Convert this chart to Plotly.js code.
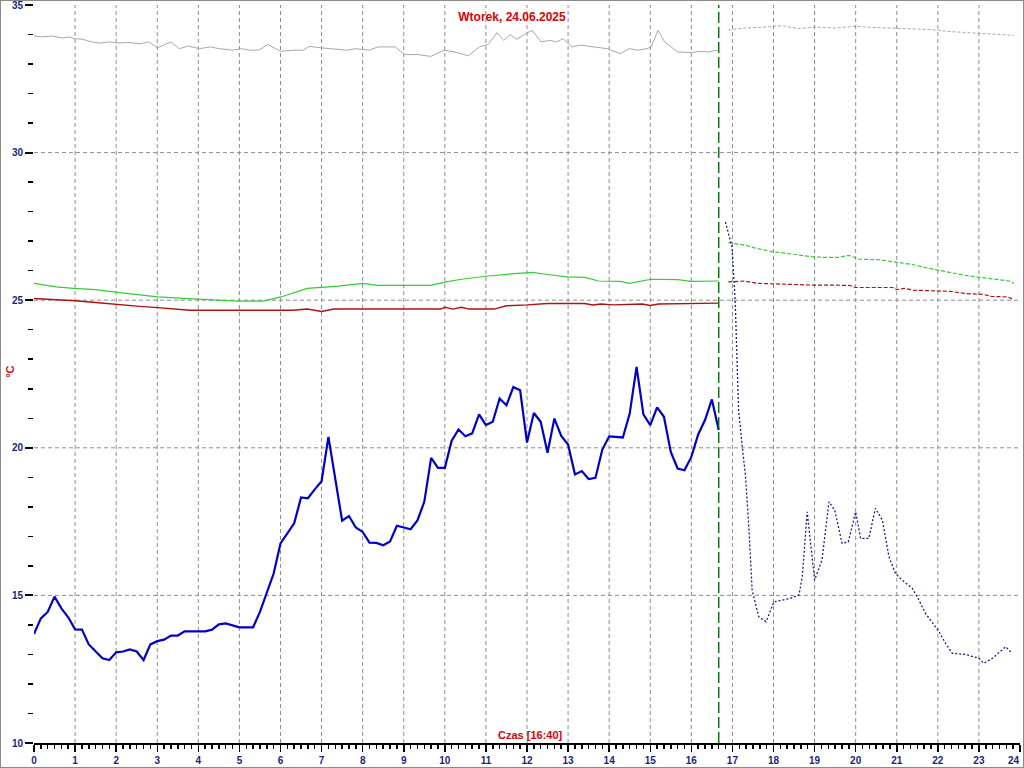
<!DOCTYPE html>
<html>
<head>
<meta charset="utf-8">
<script src="https://cdn.plot.ly/plotly-3.0.1.min.js"></script>
<style>
  html, body { margin: 0; padding: 0; background: #fff; }
  #chart { width: 1024px; height: 768px; }
  #frame { position: absolute; left: 0; top: 0; width: 1024px; height: 768px; box-sizing: border-box; border: 1px solid #8a8a8a; pointer-events: none; }
</style>
</head>
<body>
<div id="chart"></div>
<div id="frame"></div>
<script>
// ---- data ----
const titleText = "Wtorek, 24.06.2025";
const nowLabel = "Czas [16:40]";
const nowHour = 16 + 40 / 60;
const xTickLabels = ["0","1","2","3","4","5","6","7","8","9","10","11","12","13","14","15","16","17","18","19","20","21","22","23","24"];
const yTickLabels = ["10","15","20","25","30","35"];
const gridHours = [1,2,3,4,5,6,7,8,9,10,11,12,13,14,15,16,17,18,19,20,21,22,23];
const gridTemps = [15,20,25,30];

// measured air temperature, every 10 minutes from 00:00 to 16:40
const tempObs = [13.69,14.22,14.44,14.96,14.56,14.26,13.85,13.84,13.34,13.10,12.87,12.81,13.07,13.10,13.17,13.10,12.81,13.34,13.45,13.50,13.64,13.64,13.78,13.78,13.78,13.78,13.84,14.02,14.05,13.99,13.92,13.92,13.92,14.44,15.07,
  15.74,16.76,17.10,17.44,18.32,18.29,18.59,18.87,20.37,18.90,17.53,17.69,17.30,17.15,16.79,16.78,16.70,16.83,17.36,17.30,17.24,17.54,18.17,19.66,19.32,19.32,20.24,20.62,20.39,20.49,21.13,20.77,20.88,21.67,
  21.44,22.06,21.95,20.18,21.18,20.88,19.83,20.99,20.40,20.11,19.10,19.21,18.94,18.98,19.94,20.39,20.36,20.35,21.16,22.74,21.13,20.77,21.37,21.05,19.86,19.30,19.24,19.69,20.45,20.94,21.64,20.60];

// forecast air temperature
const tempFcX = [16.83,16.90,16.99,17.07,17.15,17.25,17.32,17.40,17.48,17.64,17.82,18.01,18.21,18.41,18.62,18.70,18.82,18.90,19.00,19.18,19.35,19.49,19.67,19.82,20.00,20.12,20.32,20.48,20.65,20.81,20.97,21.13,21.38,21.54,21.70,22.03,22.19,22.35,22.67,23.00,23.12,23.33,23.65,23.81];
const tempFcY = [27.65,27.26,26.81,24.89,21.28,19.92,19.02,17.32,15.18,14.28,14.11,14.78,14.84,14.90,15.01,15.63,17.83,16.87,15.52,16.20,18.17,17.89,16.76,16.81,17.83,16.93,16.93,17.95,17.55,16.31,15.74,15.52,15.24,14.84,14.39,13.77,13.37,13.04,13.00,12.87,12.70,12.87,13.26,13.04];

// green series (measured / forecast)
const greenX = [0,0.54,0.97,1.5,1.93,2.47,3.01,3.65,4.4,4.94,5.58,6.01,6.65,7.41,8.0,8.37,9.66,10.03,10.41,11.05,11.7,12.13,12.45,12.98,13.41,13.74,14.27,14.49,15.02,15.67,15.99,16.67];
const greenY = [25.57,25.45,25.40,25.36,25.28,25.19,25.11,25.06,25.02,24.97,24.97,25.11,25.40,25.48,25.57,25.50,25.50,25.62,25.71,25.82,25.90,25.94,25.88,25.79,25.77,25.65,25.64,25.57,25.71,25.70,25.64,25.65];
const greenFcX = [16.90,17.32,17.60,17.97,18.25,18.62,18.94,19.27,19.59,19.83,20.08,20.57,20.97,21.38,21.78,22.19,22.67,23.16,23.49,23.73,23.85];
const greenFcY = [26.95,26.86,26.75,26.64,26.60,26.52,26.47,26.45,26.45,26.52,26.39,26.37,26.30,26.21,26.08,25.98,25.84,25.75,25.68,25.65,25.57];

// dark red series (measured / forecast)
const redX = [0,0.5,1.0,1.5,2.0,2.5,3.0,3.8,6.3,6.65,7.0,7.3,8.0,9.9,10.0,10.2,10.4,10.6,11.2,11.5,12.0,12.2,12.5,13.4,13.6,13.8,14.1,14.8,15.0,15.2,16.67];
const redY = [25.06,25.03,24.98,24.92,24.85,24.80,24.75,24.66,24.66,24.70,24.62,24.70,24.70,24.70,24.76,24.70,24.76,24.70,24.70,24.81,24.84,24.87,24.89,24.89,24.84,24.87,24.84,24.87,24.82,24.87,24.90];
const redFcX = [16.9,17.3,17.6,18.0,18.6,19.0,19.5,19.85,20.0,20.9,21.0,21.2,21.4,21.9,22.3,22.7,23.1,23.3,23.7,23.85];
const redFcY = [25.62,25.65,25.57,25.55,25.52,25.51,25.51,25.50,25.43,25.43,25.36,25.40,25.34,25.33,25.30,25.22,25.20,25.13,25.11,25.02];

// gray series (measured / forecast)
const grayX = [0,0.22,0.43,0.70,0.86,0.97,1.18,1.40,1.61,1.83,2.04,2.26,2.58,2.79,3.01,3.33,3.54,3.76,4.03,4.29,4.51,4.83,5.05,5.26,5.47,5.69,6.01,6.33,6.55,6.71,6.98,7.30,7.62,7.83,8.16,8.37,8.80,9.01,9.34,9.66,9.98,10.30,10.57,10.84,11.05,11.27,11.43,11.59,11.75,11.97,12.13,12.34,12.55,12.72,12.88,13.09,13.31,13.63,13.95,14.27,14.49,14.70,14.92,15.02,15.19,15.35,15.67,15.99,16.20,16.42,16.63];
const grayY = [33.95,33.92,33.95,33.88,33.92,33.86,33.84,33.75,33.71,33.75,33.71,33.73,33.69,33.75,33.55,33.75,33.52,33.61,33.52,33.58,33.52,33.47,33.52,33.47,33.47,33.66,33.43,33.47,33.47,33.60,33.55,33.52,33.47,33.52,33.47,33.58,33.58,33.32,33.32,33.26,33.47,33.39,33.28,33.58,33.66,34.06,33.80,33.99,33.84,34.03,34.14,33.75,33.80,33.75,33.86,33.58,33.64,33.58,33.52,33.35,33.52,33.47,33.52,33.58,34.14,33.75,33.41,33.39,33.43,33.41,33.47];
const grayFcX = [16.9,17.3,17.8,18.2,18.6,19.0,19.5,20.0,20.4,20.8,21.3,21.8,22.3,22.8,23.3,23.85];
const grayFcY = [34.15,34.22,34.25,34.30,34.20,34.25,34.22,34.28,34.24,34.22,34.20,34.17,34.10,34.05,34.00,33.97];

// ---- build ----
const obsX = tempObs.map((_, i) => i / 6);
const navy = '#1e1e78';
const red = '#e00000';
const fontFam = 'Arial, "Liberation Sans", sans-serif';
const tickFont = {family: fontFam, size: 10, color: navy, weight: 'bold'};

const traces = [
  {x: grayX, y: grayY, mode: 'lines', line: {color: '#a8a8a8', width: 1}},
  {x: grayFcX, y: grayFcY, mode: 'lines', line: {color: '#a8a8a8', width: 1, dash: '3px,2px'}},
  {x: greenX, y: greenY, mode: 'lines', line: {color: '#33cc33', width: 1.2}},
  {x: greenFcX, y: greenFcY, mode: 'lines', line: {color: '#33cc33', width: 1.2, dash: '4px,2px'}},
  {x: redX, y: redY, mode: 'lines', line: {color: '#b01010', width: 1.4}},
  {x: redFcX, y: redFcY, mode: 'lines', line: {color: '#b01010', width: 1.2, dash: '4px,2px'}},
  {x: obsX, y: tempObs, mode: 'lines', line: {color: '#0000cc', width: 2.2}},
  {x: tempFcX, y: tempFcY, mode: 'lines', line: {color: '#1a1a90', width: 1.3, dash: '2px,2px'}}
];

const shapes = [];
gridHours.forEach(h => shapes.push({type: 'line', xref: 'x', yref: 'paper', x0: h, x1: h, y0: 0, y1: 1, layer: 'below', line: {color: '#8c8c8c', width: 1, dash: '4px,3px'}}));
gridTemps.forEach(t => shapes.push({type: 'line', xref: 'paper', yref: 'y', x0: 0, x1: 1, y0: t, y1: t, layer: 'below', line: {color: '#8c8c8c', width: 1, dash: '4px,3px'}}));
shapes.push({type: 'line', xref: 'x', yref: 'paper', x0: nowHour, x1: nowHour, y0: 0, y1: 1, line: {color: '#008000', width: 1.5, dash: '11px,4px'}});

// last hour label is placed flush with the right edge so it is not clipped
const lastLabel = xTickLabels[xTickLabels.length - 1];
const shownX = xTickLabels.map((t, i) => i === xTickLabels.length - 1 ? '' : t);

const layout = {
  width: 1024, height: 768,
  margin: {l: 34, r: 4, t: 5, b: 25},
  paper_bgcolor: '#ffffff', plot_bgcolor: '#ffffff',
  showlegend: false,
  title: {text: titleText, font: {family: fontFam, size: 12, color: red, weight: 'bold'}, x: 0.5, xref: 'container', xanchor: 'center', y: 1 - 17 / 768, yref: 'container', yanchor: 'middle'},
  xaxis: {
    range: [0, 24], showgrid: false, zeroline: false,
    tickmode: 'array', tickvals: xTickLabels.map(Number), ticktext: shownX,
    ticks: 'outside', ticklen: 7, tickwidth: 1.5, tickcolor: '#000',
    minor: {dtick: 1 / 6, ticks: 'outside', ticklen: 4, tickwidth: 1.5, tickcolor: '#000', showgrid: false},
    showline: true, linecolor: '#000', linewidth: 2,
    ticklabeloverflow: 'allow',
    tickfont: tickFont
  },
  yaxis: {
    range: [10, 35], showgrid: false, zeroline: false,
    tickmode: 'array', tickvals: yTickLabels.map(Number), ticktext: yTickLabels,
    ticks: 'outside', ticklen: 8, tickwidth: 2, tickcolor: '#000',
    minor: {dtick: 1, ticks: 'outside', ticklen: 5, tickwidth: 1.5, tickcolor: '#000', showgrid: false},
    showline: false,
    ticklabeloverflow: 'allow',
    tickfont: tickFont
  },
  shapes: shapes,
  annotations: [
    {text: lastLabel, xref: 'paper', yref: 'paper', x: 1, y: 0, xanchor: 'right', yanchor: 'top', yshift: -11, xshift: 1, showarrow: false, font: tickFont, borderpad: 0},
    {text: nowLabel, xref: 'paper', yref: 'paper', x: 0.504, y: 0, xanchor: 'center', yanchor: 'bottom', showarrow: false, font: {family: fontFam, size: 11, color: red, weight: 'bold'}},
    {text: '°C', xref: 'paper', yref: 'paper', x: -0.0243, y: 0.503, xanchor: 'center', yanchor: 'middle', textangle: -90, showarrow: false, font: {family: fontFam, size: 11, color: red, weight: 'bold'}}
  ]
};

Plotly.newPlot('chart', traces, layout, {displayModeBar: false, staticPlot: true});
</script>
</body>
</html>
